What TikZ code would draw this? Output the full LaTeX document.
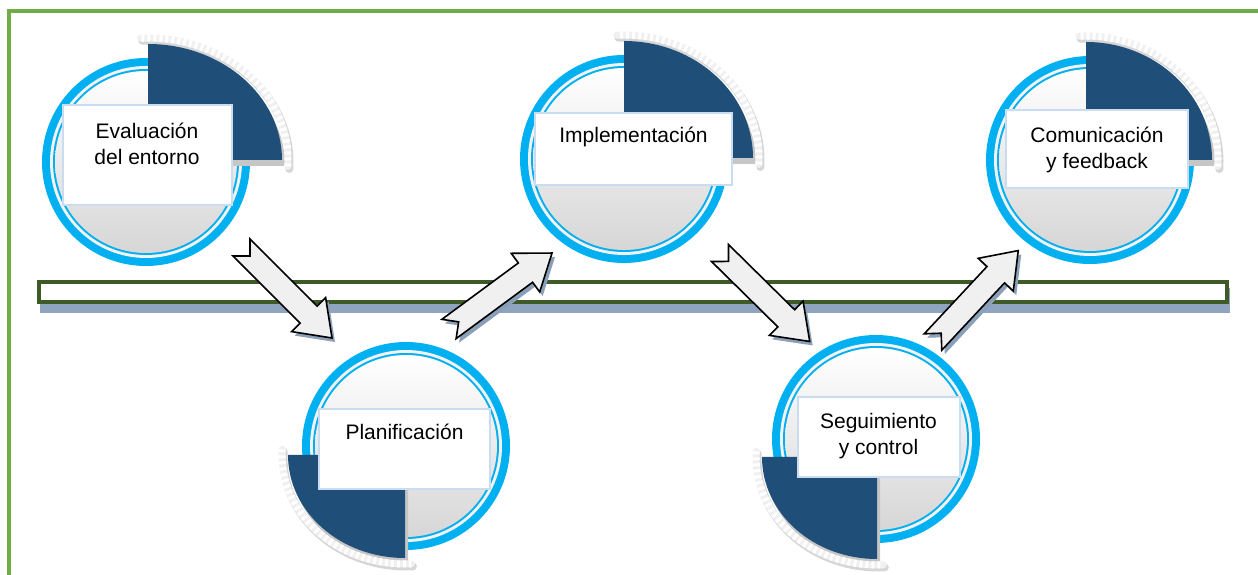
\documentclass[tikz,border=0pt]{standalone}
\usepackage{fontspec}
\setmainfont{Liberation Sans}
\definecolor{ringblue}{HTML}{00B0F0}
\definecolor{pieblue}{HTML}{1F4E79}
\definecolor{framegreen}{HTML}{70AD47}
\definecolor{bargreen}{HTML}{3D5A27}
\definecolor{barshadow}{HTML}{8FA4BE}
\definecolor{boxedge}{HTML}{C9DCF0}
\definecolor{arrowfill}{HTML}{F0F0F0}
\definecolor{arrowshadow}{HTML}{8A9FB8}
\tikzset{
  textbox/.style={draw=boxedge, line width=1.2, fill=white, inner sep=0},
  lbl/.style={font=\fontsize{21}{26}\selectfont, align=center, inner sep=0, text=black},
  arrowbody/.style={draw=black, line width=1.6, fill=arrowfill, line join=miter},
  pieshade/.style={fill=gray!45},
  bandshade/.style={draw=gray!32, line width=8, line cap=round},
  bandbase/.style={draw=gray!12, line width=7, line cap=round},
  bandstripe/.style={draw=white, line width=7, dash pattern=on 3 off 3},
}
% circle with rings, centre = named coordinate
\newcommand\stepcircle[1]{%
  \fill[ringblue] (#1) circle (104);
  \fill[white!90!gray] (#1) circle (96);
  \fill[ringblue] (#1) circle (93);
  \shade[top color=white, middle color=white!97!gray, bottom color=gray!32] (#1) circle (91);
}
% quarter pie: corner x, corner y, x radius, y radius, start angle
\newcommand\quarterpie[5]{%
  \begin{scope}[shift={(#1,#2)}]
    \fill[pieshade] (3,-6) -- ++(#5:#3 and #4) arc[start angle=#5, delta angle=90, x radius=#3, y radius=#4] -- cycle;
    \draw[bandshade] ([shift={(1.5,-2.5)}]#5-3:#3+6 and #4+6) arc[start angle=#5-3, delta angle=96, x radius=#3+6, y radius=#4+6];
    \draw[bandbase] (#5-3:#3+6 and #4+6) arc[start angle=#5-3, delta angle=96, x radius=#3+6, y radius=#4+6];
    \draw[bandstripe] (#5-3:#3+6 and #4+6) arc[start angle=#5-3, delta angle=96, x radius=#3+6, y radius=#4+6];
    \fill[pieblue] (0,0) -- (#5:#3 and #4) arc[start angle=#5, delta angle=90, x radius=#3, y radius=#4] -- cycle;
  \end{scope}}
% block arrow: tail coordinate, angle, length
\newcommand\blockarrow[3]{%
  \begin{scope}[shift={(#1)}, rotate=#2]
    \fill[arrowshadow, shift={({3*cos(#2)-4*sin(#2)},{-3*sin(#2)-4*cos(#2)})}]
      (0,12) -- (12,0) -- (0,-12) -- (#3-33,-12) -- (#3-33,-24) -- (#3,0) -- (#3-33,24) -- (#3-33,12) -- cycle;
    \draw[arrowbody]
      (0,12) -- (12,0) -- (0,-12) -- (#3-33,-12) -- (#3-33,-24) -- (#3,0) -- (#3-33,24) -- (#3-33,12) -- cycle;
  \end{scope}}
\begin{document}
\begin{tikzpicture}[x=1pt, y=1pt]
\useasboundingbox (0,0) rectangle (1258,575);
% frame
\draw[framegreen, line width=3.3] (9,-10) -- (9,564) -- (1275,564);
% bar
\fill[barshadow] (40,287) rectangle (1230,262);
\node[draw=bargreen, line width=3.5, fill=white, minimum width=1188, minimum height=20, inner sep=0, anchor=south west] (bar) at (37,271) {};

% centres
\coordinate (c1) at (146,413);
\coordinate (c2) at (406,129);
\coordinate (c3) at (624,416);
\coordinate (c4) at (876,136);
\coordinate (c5) at (1090,415);

% step 1
\stepcircle{c1}
\quarterpie{148}{415}{134}{116}{0}
\node[textbox, minimum width=169, minimum height=100] (b1) at (147.5,420) {};
\node[lbl] (l1) at (147,431) {Evaluación\\del entorno};

% step 2
\stepcircle{c2}
\quarterpie{405}{120}{117}{103}{180}
\node[textbox, minimum width=171, minimum height=80] (b2) at (404.5,126) {};
\node[lbl, anchor=base] (l2) at (404.5,135) {Planificación};

% step 3
\stepcircle{c3}
\quarterpie{624}{417}{129}{117}{0}
\node[textbox, minimum width=197, minimum height=72] (b3) at (633.5,426) {};
\node[lbl, anchor=base] (l3) at (633.5,432) {Implementación};

% step 4
\stepcircle{c4}
\quarterpie{877}{118}{115}{102}{180}
\node[textbox, minimum width=162, minimum height=80] (b4) at (879,138) {};
\node[lbl] (l4) at (878.5,139) {Seguimiento\\y control};

% step 5
\stepcircle{c5}
\quarterpie{1086}{415}{126}{118}{0}
\node[textbox, minimum width=182, minimum height=78] (b5) at (1097,426) {};
\node[lbl] (l5) at (1097,425.5) {Comunicación\\y feedback};

% arrows
\coordinate (a1) at (241.5,327.5);
\coordinate (a2) at (449,246);
\coordinate (a3) at (720,322);
\coordinate (a4) at (933,233);
\blockarrow{a1}{-45}{128}
\blockarrow{a2}{36.4}{128}
\blockarrow{a3}{-44.6}{126}
\blockarrow{a4}{47}{125}
\end{tikzpicture}
\end{document}
